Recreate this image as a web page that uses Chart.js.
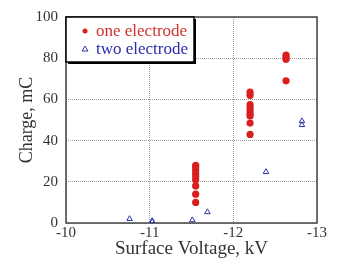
<!DOCTYPE html>
<html>
<head>
<meta charset="utf-8">
<script src="https://cdn.jsdelivr.net/npm/chart.js@4/dist/chart.umd.min.js"></script>
<style>
  html, body { margin: 0; padding: 0; background: #fff; }
  #wrap { width: 344px; height: 261px; }
</style>
</head>
<body>
<div id="wrap"><canvas id="chargeChart"></canvas></div>
<script>
const support_color = "#333"; // axis labels and ticks
const serif = "'Liberation Serif', 'DejaVu Serif', serif";

// one electrode (red dots)
const one_voltage = [-11.55, -11.55, -11.55, -11.55, -11.55, -11.55, -11.55, -11.55, -11.55,
                     -12.2, -12.2, -12.2, -12.2, -12.2, -12.2, -12.2, -12.2, -12.2,
                     -12.63, -12.63, -12.63, -12.63];
const one_charge = [28, 27, 25.5, 24, 22.5, 21, 18, 14, 10,
                    63.5, 62, 57.5, 56, 54.5, 53, 52, 48.5, 43,
                    81.5, 80.5, 79.5, 69];

// two electrode (blue triangles)
const two_voltage = [-10.76, -11.03, -11.03, -11.51, -11.69, -12.39, -12.82, -12.82];
const two_charge = [2, 1, 0.5, 1.4, 5.3, 24.8, 49.5, 47.6];

const x_ticks = [-10, -11, -12, -13];
const y_ticks = [0, 20, 40, 60, 80, 100];

function to_points(xs, ys) {
  let pts = [];
  for (let i = 0; i < xs.length; i++) pts.push({x: xs[i], y: ys[i]});
  return pts;
}

// plot frame, drawn solid over the dotted grid
const frame = {
  id: 'frame',
  beforeDatasetsDraw(chart) {
    const ctx = chart.ctx;
    const a = chart.chartArea;
    ctx.save();
    ctx.strokeStyle = '#444';
    ctx.lineWidth = 1.5;
    ctx.strokeRect(a.left, a.top, a.right - a.left, a.bottom - a.top);
    ctx.restore();
  }
};

// legend drawn as a boxed panel in the top-left of the plot
const boxLegend = {
  id: 'boxLegend',
  afterDraw(chart) {
    const ctx = chart.ctx;
    const a = chart.chartArea;
    const x0 = a.left, y0 = a.top, w = 128, h = 45;
    ctx.save();
    ctx.fillStyle = '#fff';
    ctx.fillRect(x0, y0, w, h);
    // shadow on the right and bottom
    ctx.fillStyle = '#000';
    ctx.fillRect(x0 + 2, y0 + h, w, 2);
    ctx.fillRect(x0 + w, y0 + 2, 2, h);
    ctx.strokeStyle = '#000';
    ctx.lineWidth = 1.5;
    ctx.strokeRect(x0, y0, w, h);
    ctx.font = '17px ' + serif;
    ctx.textBaseline = 'middle';
    chart.data.datasets.forEach((ds, i) => {
      const cy = y0 + 14 + i * 18;
      ctx.strokeStyle = ds.borderColor;
      ctx.fillStyle = ds.backgroundColor;
      ctx.lineWidth = 1;
      if (ds.pointStyle == 'triangle') {
        ctx.beginPath();
        ctx.moveTo(x0 + 19, cy - 3);
        ctx.lineTo(x0 + 22, cy + 2);
        ctx.lineTo(x0 + 16, cy + 2);
        ctx.closePath();
        ctx.stroke();
      } else {
        ctx.beginPath();
        ctx.arc(x0 + 19, cy, 2.5, 0, Math.PI * 2);
        ctx.fill();
      }
      ctx.fillStyle = ds.labelColor;
      ctx.fillText(ds.label, x0 + 30, cy + 1);
    });
    ctx.restore();
  }
};

const config = {
  type: 'scatter',
  data: {
    datasets: [
      {
        label: 'one electrode',
        data: to_points(one_voltage, one_charge),
        pointStyle: 'circle',
        pointRadius: 3.6,
        borderWidth: 0,
        backgroundColor: '#d81e1e',
        borderColor: '#d81e1e',
        labelColor: '#d0312d',
      },
      {
        label: 'two electrode',
        data: to_points(two_voltage, two_charge),
        pointStyle: 'triangle',
        pointRadius: 3.2,
        borderWidth: 1,
        backgroundColor: 'rgba(0,0,0,0)',
        borderColor: '#2b37a8',
        labelColor: '#2b2bb0',
      }
    ]
  },
  options: {
    responsive: true,
    maintainAspectRatio: false,
    animation: false,
    events: [],
    layout: {
      padding: {top: 15, right: 27, left: 0, bottom: 0}
    },
    plugins: {
      legend: {display: false},
      tooltip: {enabled: false}
    },
    scales: {
      x: {
        type: 'linear',
        min: -13,
        max: -10,
        reverse: true,
        afterBuildTicks: (axis) => { axis.ticks = x_ticks.map(v => ({value: v})); },
        afterFit: (axis) => { axis.height = 38; },
        ticks: {
          color: support_color,
          padding: 1,
          font: {family: serif, size: 15}
        },
        grid: {
          color: '#9a9a9a',
          lineWidth: 1,
          drawTicks: false,
        },
        border: {display: false, dash: [1, 1]},
        title: {
          display: true,
          text: 'Surface Voltage, kV',
          color: support_color,
          font: {family: serif, size: 19},
          padding: {top: 0, bottom: 1}
        }
      },
      y: {
        min: 0,
        max: 100,
        afterBuildTicks: (axis) => { axis.ticks = y_ticks.map(v => ({value: v})); },
        afterFit: (axis) => { axis.width = 66; },
        ticks: {
          color: support_color,
          padding: 8,
          font: {family: serif, size: 15}
        },
        grid: {
          color: '#9a9a9a',
          lineWidth: 1,
          drawTicks: false,
        },
        border: {display: false, dash: [1, 1]},
        title: {
          display: true,
          text: 'Charge, mC',
          color: support_color,
          font: {family: serif, size: 18},
          padding: {top: 16, bottom: 0}
        }
      }
    }
  },
  plugins: [frame, boxLegend]
};

let ctx = document.getElementById('chargeChart').getContext('2d');
let chargeChart = new Chart(ctx, config);
</script>
</body>
</html>
